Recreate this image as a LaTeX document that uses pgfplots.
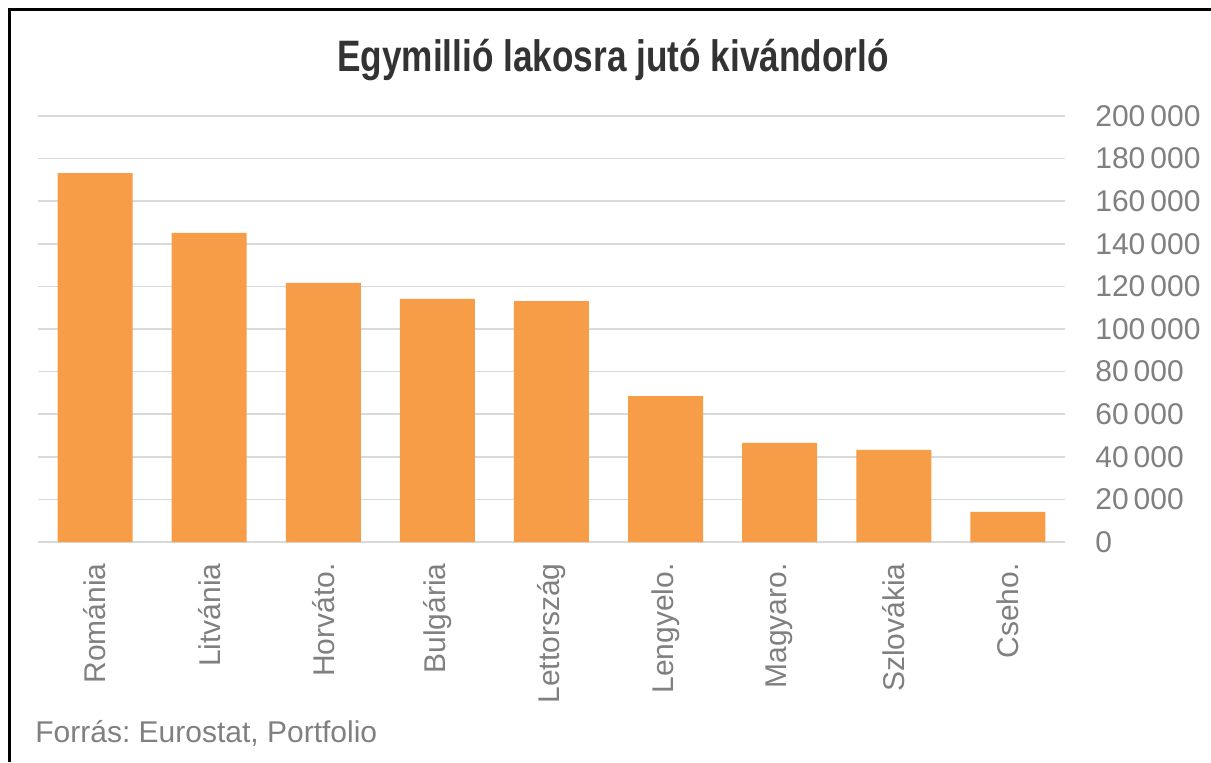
\documentclass[border=0pt]{standalone}
\usepackage{fontspec}
\setmainfont{Liberation Sans}
\usepackage{pgfplots}
\pgfplotsset{compat=1.18}
\usepackage{graphicx}
\definecolor{barc}{RGB}{247,157,72}
\definecolor{lab}{RGB}{128,128,128}
\definecolor{gridc}{RGB}{217,217,217}
\definecolor{ttl}{RGB}{51,51,51}
\begin{document}
\frenchspacing
\begin{tikzpicture}
\useasboundingbox (0,0) rectangle (605.5pt,381pt);
\fill[white] (0,0) rectangle (605.5pt,381pt);
\draw[black, line width=1.5pt] (4.5pt,0) -- (4.5pt,376pt) -- (605.5pt,376pt);
\begin{axis}[
  at={(19pt,110pt)}, anchor=south west,
  scale only axis, width=513.5pt, height=213pt,
  xmin=-0.5, xmax=8.5, ymin=0, ymax=200000,
  axis line style={draw=none},
  ytick={0,20000,40000,60000,80000,100000,120000,140000,160000,180000,200000},
  yticklabels={0,20\,000,40\,000,60\,000,80\,000,100\,000,120\,000,140\,000,160\,000,180\,000,200\,000},
  ymajorgrids, grid style={gridc, line width=0.8pt},
  ytick pos=right, yticklabel pos=right,
  major tick length=0pt,
  scaled y ticks=false,
  yticklabel style={anchor=west, inner sep=0pt, xshift=15pt},
  xtick={0,...,8},
  xticklabels={Románia,Litvánia,Horváto.,Bulgária,Lettország,Lengyelo.,Magyaro.,Szlovákia,Cseho.},
  xticklabel style={rotate=90, anchor=east, inner sep=0pt, xshift=-10.5pt},
  ticklabel style={font=\fontsize{15}{15}\selectfont, text=lab},
]
\addplot[ybar, bar width=37.5pt, fill=barc, draw=none] coordinates {
  (0,173200) (1,145100) (2,121600) (3,114100) (4,113100)
  (5,68500) (6,46500) (7,43200) (8,14100)
};
\end{axis}
\node[text=ttl, font=\bfseries\fontsize{22}{22}\selectfont] at (306.5pt,351pt) {\scalebox{0.8}[1]{Egymillió lakosra jutó kivándorló}};
\node[text=lab, font=\fontsize{15}{15}\selectfont, anchor=west, inner sep=0pt] at (17.5pt,14.5pt) {Forrás: Eurostat, Portfolio};
\end{tikzpicture}
\end{document}
